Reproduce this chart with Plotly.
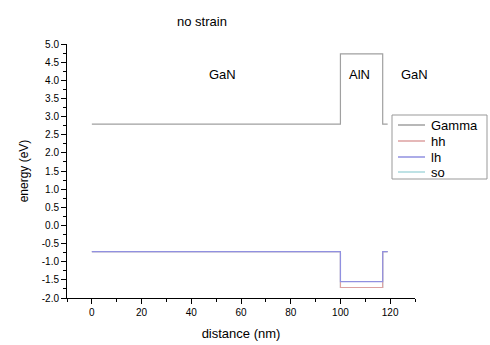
import plotly.graph_objects as go

x_pts = [0, 100, 100, 117, 117, 119]
gamma = [2.79, 2.79, 4.73, 4.73, 2.79, 2.79]
hh = [-0.72, -0.72, -1.71, -1.71, -0.72, -0.72]
lh = [-0.72, -0.72, -1.55, -1.55, -0.72, -0.72]
so = [-0.72, -0.72, -1.71, -1.71, -0.72, -0.72]

series_names = ["Gamma", "hh", "lh", "so"]
series_colors = ["#a0a0a0", "#dca0a0", "#9090e0", "#a8d8dc"]

y_ticks = [5.0, 4.5, 4.0, 3.5, 3.0, 2.5, 2.0, 1.5, 1.0, 0.5, 0.0, -0.5, -1.0, -1.5, -2.0]
y_labels = ["%.1f" % v for v in y_ticks]
x_ticks = [0, 20, 40, 60, 80, 100, 120]
x_labels = [str(v) for v in x_ticks]

font = "Liberation Sans, Arial, sans-serif"
W, H = 490, 345
ML, MR, MT, MB = 67, 75, 44, 47
pw = W - ML - MR
ph = H - MT - MB


def px(xp):
    return (xp - ML) / pw


def py(yp):
    return (H - MB - yp) / ph


series = {"Gamma": gamma, "hh": hh, "lh": lh, "so": so}
draw_order = ["Gamma", "so", "hh", "lh"]
fig = go.Figure()
for name in draw_order:
    c = series_colors[series_names.index(name)]
    fig.add_trace(go.Scatter(x=x_pts, y=series[name], mode="lines", name=name,
                             line=dict(color=c, width=1.2), showlegend=False))

shapes = [dict(type="rect", xref="paper", yref="paper", x0=px(392), x1=px(487), y0=py(115), y1=py(179),
               line=dict(color="#999999", width=1), fillcolor="white", layer="above")]
annotations = [
    dict(text="no strain", x=px(202), y=py(22), xref="paper", yref="paper", showarrow=False,
         xanchor="center", yanchor="middle", font=dict(size=13)),
    dict(text="GaN", x=52.4, y=4.15, xref="x", yref="y", showarrow=False, font=dict(size=13)),
    dict(text="AlN", x=107.6, y=4.15, xref="x", yref="y", showarrow=False, font=dict(size=13)),
    dict(text="GaN", x=129.6, y=4.15, xref="x", yref="y", showarrow=False, font=dict(size=13)),
]
row_y = [125, 141, 157, 172]
for name, c, ry in zip(series_names, series_colors, row_y):
    shapes.append(dict(type="line", xref="paper", yref="paper", x0=px(398), x1=px(425), y0=py(ry), y1=py(ry),
                       line=dict(color=c, width=1.5), layer="above"))
    annotations.append(dict(text=name, x=px(429), y=py(ry), xref="paper", yref="paper", showarrow=False,
                            xanchor="left", yanchor="middle", font=dict(size=13)))

fig.update_layout(
    width=W, height=H,
    margin=dict(l=ML, r=MR, t=MT, b=MB, autoexpand=False),
    paper_bgcolor="white", plot_bgcolor="white",
    font=dict(family=font, size=11, color="black"),
    showlegend=False,
    shapes=shapes,
    annotations=annotations,
)

fig.update_xaxes(range=[-10, 130], showline=True, linecolor="black", linewidth=1, automargin=False,
                 ticks="outside", ticklen=5, tickcolor="black", tickvals=x_ticks, ticktext=x_labels,
                 minor=dict(ticks="outside", ticklen=3, dtick=10, tick0=0, tickcolor="black"),
                 showgrid=False, zeroline=False, tickfont=dict(size=10),
                 title=dict(text="distance (nm)", font=dict(size=13), standoff=11))
fig.update_yaxes(range=[-2.0, 5.0], showline=True, linecolor="black", linewidth=1, automargin=False,
                 ticks="outside", ticklen=5, tickcolor="black", tickvals=y_ticks, ticktext=y_labels,
                 minor=dict(ticks="outside", ticklen=3, dtick=0.25, tick0=0, tickcolor="black"),
                 showgrid=False, zeroline=False, tickfont=dict(size=10),
                 title=dict(text="energy (eV)", font=dict(size=12), standoff=10))

fig.write_html("out.html")
